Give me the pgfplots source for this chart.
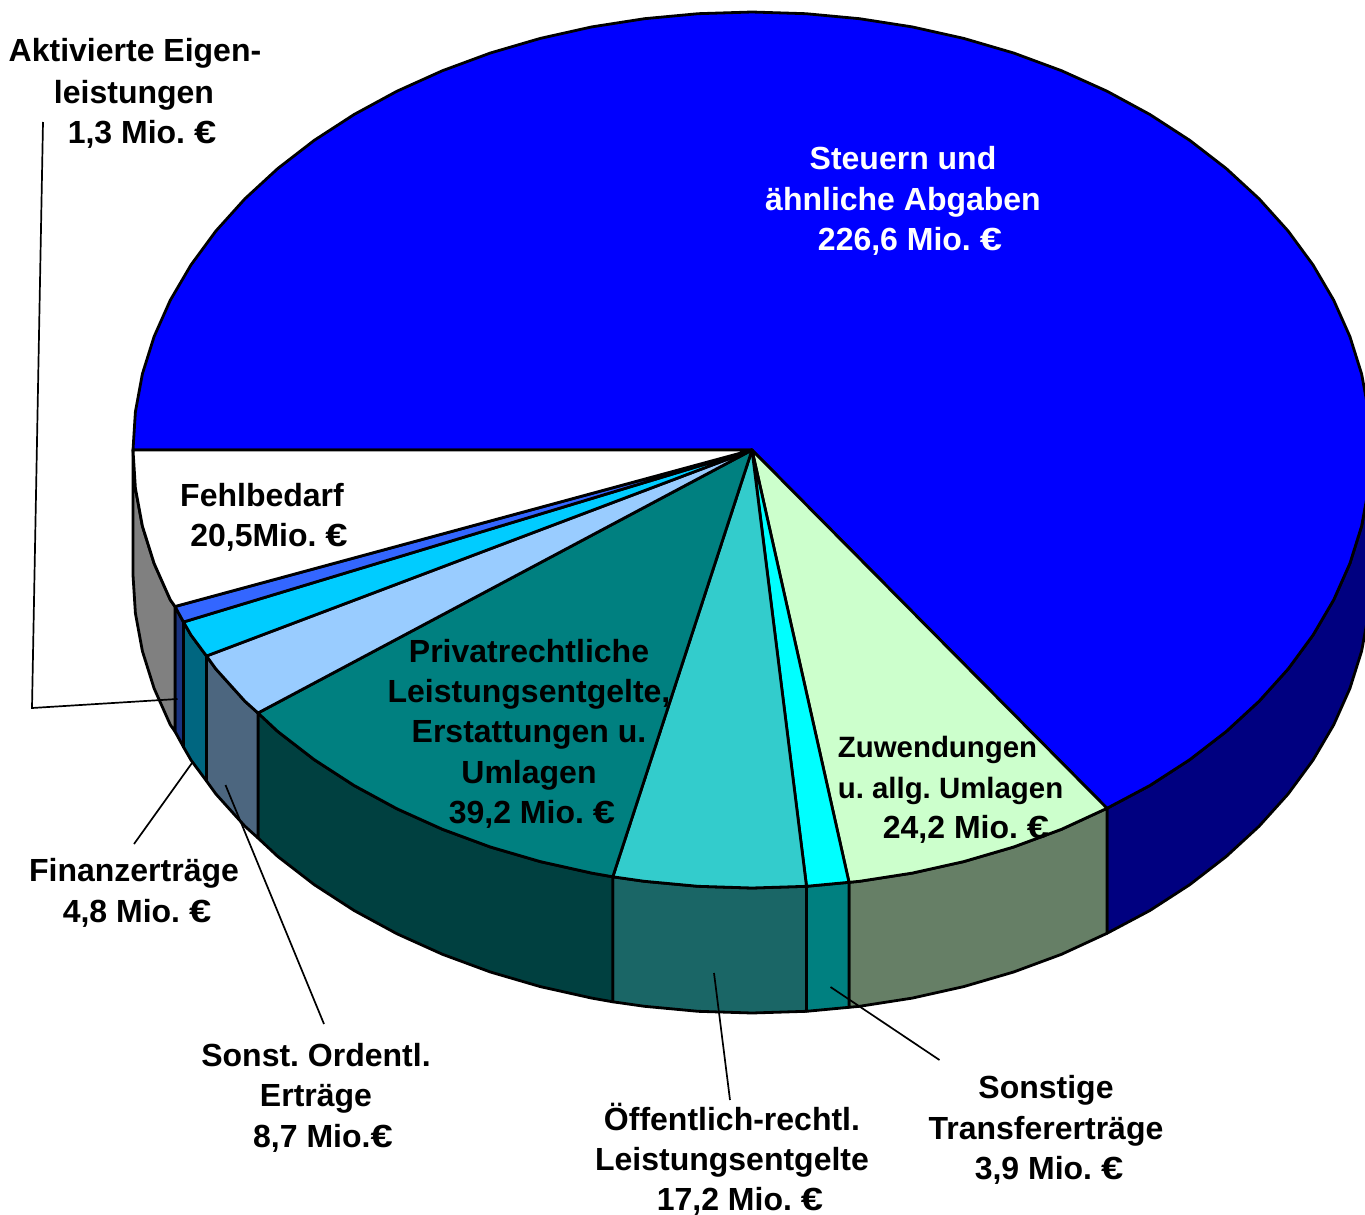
\documentclass[border=0pt]{standalone}
\usepackage{fontspec}
\setmainfont{Liberation Sans}
\usepackage{pgfplots}
\pgfplotsset{compat=1.18}
\pgfplotsset{
  slice/.style={draw=black,line width=2.8pt,line join=round,fill=#1,mark=none},
  leader/.style={draw=black,line width=1.7pt,mark=none,forget plot},
}
\definecolor{cBlue}{HTML}{0000FF}\definecolor{sBlue}{HTML}{000080}
\definecolor{cZuw}{HTML}{CCFFCC}\definecolor{sZuw}{HTML}{667F66}
\definecolor{cTra}{HTML}{00FFFF}\definecolor{sTra}{HTML}{008080}
\definecolor{cOef}{HTML}{33CCCC}\definecolor{sOef}{HTML}{1A6666}
\definecolor{cPri}{HTML}{008080}\definecolor{sPri}{HTML}{004040}
\definecolor{cSon}{HTML}{99CCFF}\definecolor{sSon}{HTML}{4C667F}
\definecolor{cFin}{HTML}{00CCFF}\definecolor{sFin}{HTML}{006680}
\definecolor{cAkt}{HTML}{3366FF}\definecolor{sAkt}{HTML}{1A3380}
\newcommand{\eur}{\scalebox{1.25}[1]{€}}
\newcommand{\lab}[4][black]{\node[anchor=base,inner sep=0pt,text=#1,font=\fontsize{#4}{#4}\selectfont\bfseries\frenchspacing] at (axis cs:#2) {#3};}
\begin{document}
\begin{tikzpicture}
\begin{axis}[width=1365pt,height=1215pt,scale only axis,hide axis,xmin=0,xmax=1365,ymin=0,ymax=1215,y dir=reverse]
% side walls (top edge, then bottom edge 125 lower)
\addplot[slice=sBlue] coordinates {(1371,450) (1368.6,488.2) (1361.6,526.1) (1349.9,563.4) (1333.7,599.8) (1313,635.1) (1288.1,669) (1259.1,701.2) (1226.2,731.5) (1189.7,759.7) (1149.9,785.5) (1107,808.3) (1107,933.3) (1149.9,910.5) (1189.7,884.7) (1226.2,856.5) (1259.1,826.2) (1288.1,794) (1313,760.1) (1333.7,724.8) (1349.9,688.4) (1361.6,651.1) (1368.6,613.2) (1371,575)} --cycle;
\addplot[slice=sZuw] coordinates {(1107,808.3) (1061.5,829.3) (1013.6,847) (963.7,861.6) (912.2,873.1) (859.5,881.3) (849,882.3) (849,1007.3) (859.5,1006.3) (912.2,998.1) (963.7,986.6) (1013.6,972) (1061.5,954.3) (1107,933.3)} --cycle;
\addplot[slice=sTra] coordinates {(849,882.3) (806.5,886.3) (806.5,1011.3) (849,1007.3)} --cycle;
\addplot[slice=sOef] coordinates {(806.5,886.3) (752,888) (698,886.3) (644.5,881.3) (612.8,876.8) (612.8,1001.8) (644.5,1006.3) (698,1011.3) (752,1013) (806.5,1011.3)} --cycle;
\addplot[slice=sPri] coordinates {(612.8,876.8) (591.8,873.1) (540.3,861.6) (490.4,847) (442.5,829.3) (397,808.8) (354.1,785.5) (314.3,759.7) (277.8,731.5) (258,713) (258,838) (277.8,856.5) (314.3,884.7) (354.1,910.5) (397,933.8) (442.5,954.3) (490.4,972) (540.3,986.6) (591.8,998.1) (612.8,1001.8)} --cycle;
\addplot[slice=sSon] coordinates {(258,713) (244.9,701.2) (215.9,669) (206.5,656) (206.5,781) (215.9,794) (244.9,826.2) (258,838)} --cycle;
\addplot[slice=sFin] coordinates {(206.5,656) (191,635.1) (183.5,622) (183.5,747) (191,760.1) (206.5,781)} --cycle;
\addplot[slice=sAkt] coordinates {(183.5,622) (175,606.5) (175,731.5) (183.5,747)} --cycle;
\addplot[slice=gray] coordinates {(175,606.5) (170.3,599.8) (154.1,563.4) (142.4,526.1) (135.4,488.2) (133,450) (133,575) (135.4,613.2) (142.4,651.1) (154.1,688.4) (170.3,724.8) (175,731.5)} --cycle;
% top face
\addplot[slice=cBlue] coordinates {(752,450) (133,450) (135.4,411.8) (142.4,373.9) (154.1,336.6) (170.3,300.2) (191,264.9) (215.9,231) (244.9,198.8) (277.8,168.5) (314.3,140.3) (354.1,114.5) (397,91.2) (442.5,70.7) (490.4,53) (540.3,38.4) (591.8,26.9) (644.5,18.7) (698,13.7) (752,12) (806,13.7) (859.5,18.7) (912.2,26.9) (963.7,38.4) (1013.6,53) (1061.5,70.7) (1107,91.2) (1149.9,114.5) (1189.7,140.3) (1226.2,168.5) (1259.1,198.8) (1288.1,231) (1313,264.9) (1333.7,300.2) (1349.9,336.6) (1361.6,373.9) (1368.6,411.8) (1371,450) (1368.6,488.2) (1361.6,526.1) (1349.9,563.4) (1333.7,599.8) (1313,635.1) (1288.1,669) (1259.1,701.2) (1226.2,731.5) (1189.7,759.7) (1149.9,785.5) (1107,808.3)} --cycle;
\addplot[slice=cZuw] coordinates {(752,450) (1107,808.3) (1061.5,829.3) (1013.6,847) (963.7,861.6) (912.2,873.1) (859.5,881.3) (849,882.3)} --cycle;
\addplot[slice=cTra] coordinates {(752,450) (849,882.3) (806.5,886.3)} --cycle;
\addplot[slice=cOef] coordinates {(752,450) (806.5,886.3) (752,888) (698,886.3) (644.5,881.3) (612.8,876.8)} --cycle;
\addplot[slice=cPri] coordinates {(752,450) (612.8,876.8) (591.8,873.1) (540.3,861.6) (490.4,847) (442.5,829.3) (397,808.8) (354.1,785.5) (314.3,759.7) (277.8,731.5) (258,713)} --cycle;
\addplot[slice=cSon] coordinates {(752,450) (258,713) (244.9,701.2) (215.9,669) (206.5,656)} --cycle;
\addplot[slice=cFin] coordinates {(752,450) (206.5,656) (191,635.1) (183.5,622)} --cycle;
\addplot[slice=cAkt] coordinates {(752,450) (183.5,622) (175,606.5)} --cycle;
\addplot[slice=white] coordinates {(752,450) (175,606.5) (170.3,599.8) (154.1,563.4) (142.4,526.1) (135.4,488.2) (133,450)} --cycle;
% leader lines
\addplot[leader] coordinates {(43,122) (32,708) (177.5,699)};
\addplot[leader] coordinates {(134,844) (192,763)};
\addplot[leader] coordinates {(324,1024) (225.5,785)};
\addplot[leader] coordinates {(730,1100) (714,973)};
\addplot[leader] coordinates {(939.5,1060) (830.5,987)};
% labels
\lab{135,62}{Aktivierte Eigen-}{32}
\lab{134,103}{leistungen}{32}
\lab{142,143}{1,3 Mio. \eur}{32}
\lab[white]{903,169}{Steuern und}{32}
\lab[white]{903,210}{ähnliche Abgaben}{32}
\lab[white]{910,250}{226,6 Mio. \eur}{32}
\lab{262,506}{Fehlbedarf}{32}
\lab{269,546}{20,5Mio. \eur}{32}
\lab{529,662}{Privatrechtliche}{32}
\lab{529,702}{Leistungsentgelte,}{32}
\lab{529,742}{Erstattungen u.}{32}
\lab{529,783}{Umlagen}{32}
\lab{532,823}{39,2 Mio. \eur}{32}
\lab{937.5,757}{Zuwendungen}{29.4}
\lab{950.5,798}{u. allg. Umlagen}{29.4}
\lab{966,838}{24,2 Mio. \eur}{32}
\lab{134,881}{Finanzerträge}{32}
\lab{137,922}{4,8 Mio. \eur}{32}
\lab{316,1066}{Sonst. Ordentl.}{32}
\lab{316,1106}{Erträge}{32}
\lab{323,1147}{8,7 Mio.\eur}{32}
\lab{732,1130}{Öffentlich-rechtl.}{32}
\lab{732,1170}{Leistungsentgelte}{32}
\lab{740,1210}{17,2 Mio. \eur}{32}
\lab{1046,1098}{Sonstige}{32}
\lab{1046,1139}{Transfererträge}{32}
\lab{1049,1179}{3,9 Mio. \eur}{32}
\end{axis}
\path (0,0) rectangle (1365pt,1215pt);
\end{tikzpicture}
\end{document}
